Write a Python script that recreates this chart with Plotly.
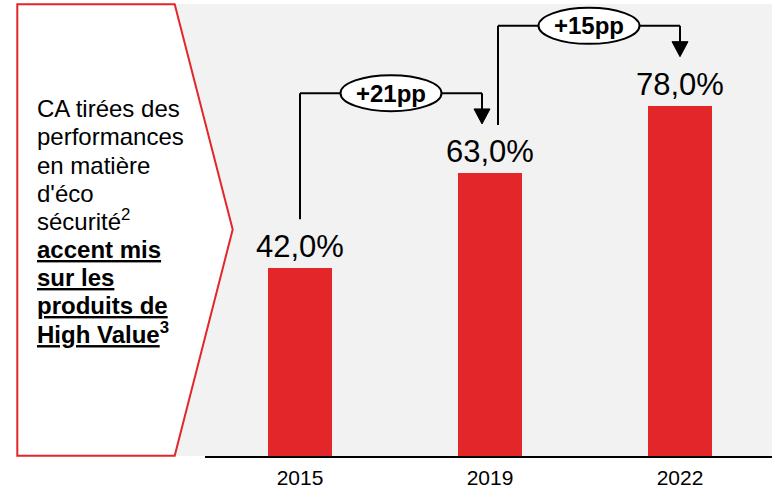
import plotly.graph_objects as go

# ---- data ----
years = ["2015", "2019", "2022"]
values = [42.0, 63.0, 78.0]
deltas = ["+21pp", "+15pp"]
panel_lines = [
    "CA tirées des",
    "performances",
    "en matière",
    "d'éco",
    "sécurité<sup>2</sup>",
    "<b><u>accent mis</u></b>",
    "<b><u>sur les</u></b>",
    "<b><u>produits de</u></b>",
    "<b><u>High Value</u><sup>3</sup></b>",
]

# ---- layout constants ----
W, H = 772, 492
TOP, BOTTOM = 4, 456          # plot area in px
PLOT_LEFT = 205
CAT_PX = 190.0
PX_PER_UNIT = 4.485
RED = "#E3262A"
GREY = "#F2F2F2"
FONT = "Liberation Sans, Arial, sans-serif"

x_idx = list(range(len(years)))
x_left = -(300 - PLOT_LEFT) / CAT_PX
x_right = x_left + (W - PLOT_LEFT) / CAT_PX
y_top = (BOTTOM - TOP) / PX_PER_UNIT


def px_x(p):
    return p / CAT_PX


def px_y(p):
    return p / PX_PER_UNIT


def paper_x(p):
    return p / W


def paper_y(p):
    return (BOTTOM - p) / (BOTTOM - TOP)


fig = go.Figure()
fig.add_trace(go.Bar(
    x=x_idx, y=values, width=63.4 / CAT_PX,
    marker=dict(color=RED, line=dict(width=0)),
    hoverinfo="skip", showlegend=False,
))

shapes = []
# grey background
shapes.append(dict(type="rect", xref="paper", yref="paper",
                   x0=paper_x(175), x1=1, y0=0, y1=1,
                   fillcolor=GREY, line=dict(width=0), layer="below"))
# left pentagon
pts = [(17.3, 4.3), (174.7, 4.3), (232.7, 229.5), (174.7, 455.7), (17.3, 455.7)]
path = "M " + " L ".join(f"{paper_x(a):.5f},{paper_y(b):.5f}" for a, b in pts) + " Z"
shapes.append(dict(type="path", xref="paper", yref="paper", path=path,
                   fillcolor="white", line=dict(color=RED, width=2), layer="below"))

annotations = []
# value labels
for i, v in zip(x_idx, values):
    annotations.append(dict(
        x=i, y=v, xref="x", yref="y", showarrow=False,
        text=f"{v:.1f}".replace(".", ",") + "%",
        font=dict(family=FONT, size=31, color="black"),
        yanchor="bottom", yshift=2,
    ))

# brackets
start_dx = [0.0, 8.0]     # px offset from source bar centre
end_dx = [-8.0, 0.0]      # px offset from target bar centre
for k, label in enumerate(deltas):
    xa = k + px_x(start_dx[k])
    xb = k + 1 + px_x(end_dx[k])
    level = max(values[k], values[k + 1]) + px_y(80.3)
    y_start = values[k] + px_y(48.5)
    y_tip = values[k + 1] + px_y(49.5)
    xm = (xa + xb) / 2
    ex = px_x(50.5)
    ey = px_y(18)
    line = dict(color="black", width=2)
    shapes.append(dict(type="line", xref="x", yref="y", x0=xa, x1=xa, y0=y_start, y1=level, line=line))
    shapes.append(dict(type="line", xref="x", yref="y", x0=xa, x1=xm - ex, y0=level, y1=level, line=line))
    shapes.append(dict(type="line", xref="x", yref="y", x0=xm + ex, x1=xb, y0=level, y1=level, line=line))
    head_h = px_y(15)
    head_w = px_x(8)
    shapes.append(dict(type="line", xref="x", yref="y", x0=xb, x1=xb, y0=level, y1=y_tip + head_h, line=line))
    shapes.append(dict(type="path", xref="x", yref="y",
                       path=f"M {xb - head_w},{y_tip + head_h} L {xb + head_w},{y_tip + head_h} L {xb},{y_tip} Z",
                       fillcolor="black", line=dict(color="black", width=1)))
    shapes.append(dict(type="circle", xref="x", yref="y",
                       x0=xm - ex, x1=xm + ex, y0=level - ey, y1=level + ey,
                       fillcolor="white", line=line))
    annotations.append(dict(x=xm, y=level, xref="x", yref="y", showarrow=False,
                            text=f"<b>{label}</b>",
                            font=dict(family=FONT, size=24, color="black"),
                            xanchor="center", yanchor="middle"))

# left panel text
base0, step = 118.3, 28.15
for j, t in enumerate(panel_lines):
    baseline = base0 + j * step
    annotations.append(dict(
        x=paper_x(35), y=paper_y(baseline + 6), xref="paper", yref="paper",
        xanchor="left", yanchor="bottom", showarrow=False, align="left",
        text=t, font=dict(family=FONT, size=24, color="black"),
    ))

fig.update_layout(
    width=W, height=H,
    margin=dict(l=0, r=0, t=TOP, b=H - BOTTOM, pad=0),
    paper_bgcolor="white", plot_bgcolor="rgba(0,0,0,0)",
    shapes=shapes, annotations=annotations,
    showlegend=False, bargap=0,
    font=dict(family=FONT, color="black"),
    xaxis=dict(
        domain=[paper_x(PLOT_LEFT), 1], range=[x_left, x_right],
        tickvals=x_idx, ticktext=years, tickfont=dict(family=FONT, size=21, color="black"),
        showline=True, linecolor="black", linewidth=2, showgrid=False, zeroline=False,
        ticks="", ticklabelstandoff=2, fixedrange=True,
    ),
    yaxis=dict(range=[0, y_top], visible=False, fixedrange=True),
)

fig.write_html(
    "out.html",
    config={"displayModeBar": False},
    post_script="document.body.style.margin='0';document.body.style.padding='0';",
)
